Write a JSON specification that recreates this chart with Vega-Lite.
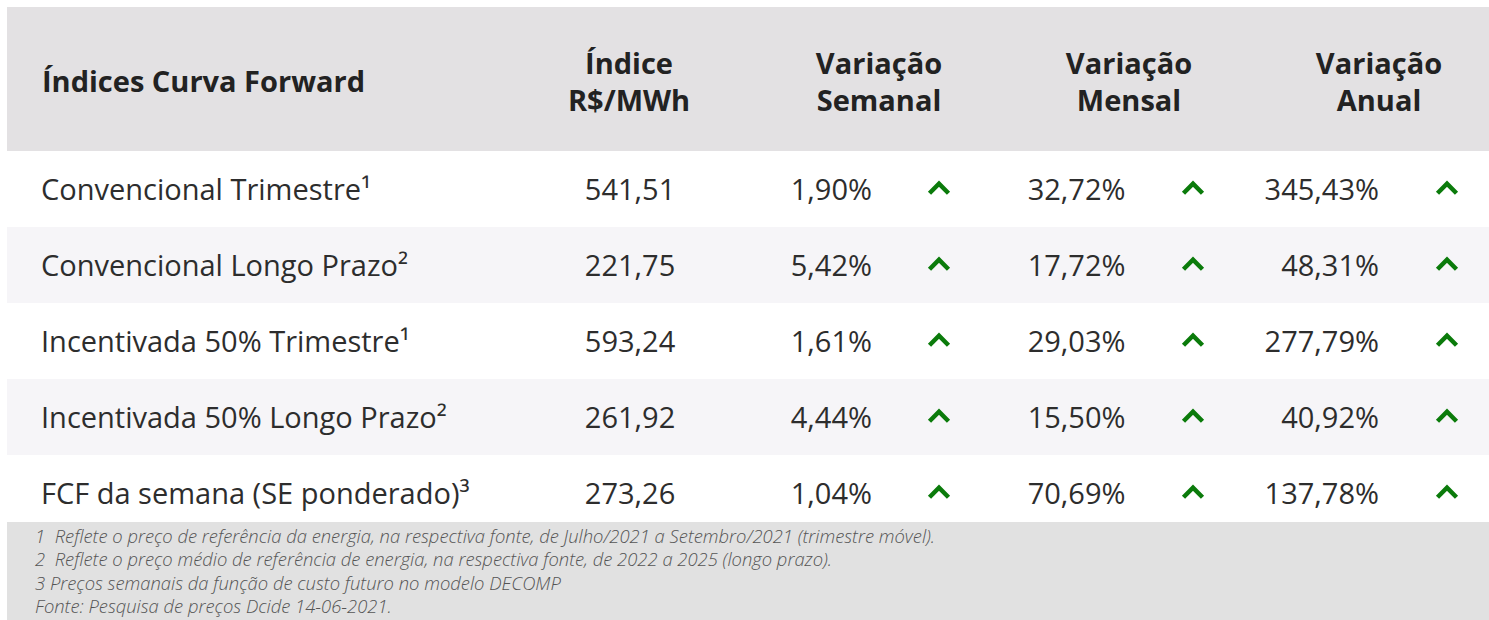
{
  "$schema": "https://vega.github.io/schema/vega-lite/v6.json",
  "width": 1482,
  "height": 613,
  "autosize": {"type": "none"},
  "padding": {"left": 7, "top": 7, "right": 0, "bottom": 0},
  "background": "#ffffff",
  "config": {
    "view": {"stroke": "#e6e6e6", "strokeWidth": 1},
    "font": "Open Sans",
    "locale": {"number": {"decimal": ",", "thousands": ".", "grouping": [3], "currency": ["R$ ", ""]}}
  },
  "datasets": {
    "tabela": [
      {"nome": "Convencional Trimestre¹", "indice": 541.51, "semanal": 0.0190, "mensal": 0.3272, "anual": 3.4543},
      {"nome": "Convencional Longo Prazo²", "indice": 221.75, "semanal": 0.0542, "mensal": 0.1772, "anual": 0.4831},
      {"nome": "Incentivada 50% Trimestre¹", "indice": 593.24, "semanal": 0.0161, "mensal": 0.2903, "anual": 2.7779},
      {"nome": "Incentivada 50% Longo Prazo²", "indice": 261.92, "semanal": 0.0444, "mensal": 0.1550, "anual": 0.4092},
      {"nome": "FCF da semana (SE ponderado)³", "indice": 273.26, "semanal": 0.0104, "mensal": 0.7069, "anual": 1.3778}
    ],
    "cabecalho": [
      {"coluna": "nome", "titulo": "Índices Curva Forward"},
      {"coluna": "indice", "titulo": "Índice\nR$/MWh"},
      {"coluna": "semanal", "titulo": "Variação\nSemanal"},
      {"coluna": "mensal", "titulo": "Variação\nMensal"},
      {"coluna": "anual", "titulo": "Variação\nAnual"}
    ],
    "notas": [
      {"nota": "1\u00a0 Reflete o preço de referência da energia, na respectiva fonte, de Julho/2021 a Setembro/2021 (trimestre móvel)."},
      {"nota": "2\u00a0 Reflete o preço médio de referência de energia, na respectiva fonte, de 2022 a 2025 (longo prazo)."},
      {"nota": "3 Preços semanais da função de custo futuro no modelo DECOMP"},
      {"nota": "Fonte: Pesquisa de preços Dcide 14-06-2021."}
    ]
  },
  "layer": [
    {
      "data": {"name": "cabecalho"},
      "transform": [{"filter": "datum.coluna === 'nome'"}],
      "mark": {"type": "rect", "color": "#e3e1e3"},
      "encoding": {
        "y": {"datum": "cabeçalho", "type": "nominal", "scale": {"type": "band", "domain": ["cabeçalho"], "range": [0, 144], "paddingInner": 0, "paddingOuter": 0}, "axis": null}
      }
    },
    {
      "data": {"name": "tabela"},
      "mark": {"type": "rect"},
      "encoding": {
        "y": {"field": "nome", "type": "nominal", "sort": null, "scale": {"type": "band", "range": [144, 524], "paddingInner": 0, "paddingOuter": 0}, "axis": null},
        "color": {"field": "nome", "type": "nominal", "sort": null, "scale": {"range": ["#ffffff", "#f6f5f8", "#ffffff", "#f6f5f8", "#ffffff"]}, "legend": null}
      }
    },
    {
      "data": {"name": "notas"},
      "transform": [{"aggregate": [{"op": "count", "as": "n"}]}],
      "mark": {"type": "rect", "color": "#e1e1e1"},
      "encoding": {
        "y": {"datum": "rodapé", "type": "nominal", "scale": {"type": "band", "domain": ["rodapé"], "range": [515, 613], "paddingInner": 0, "paddingOuter": 0}, "axis": null}
      }
    },
    {
      "data": {"name": "cabecalho"},
      "transform": [{"filter": "datum.coluna === 'nome'"}],
      "mark": {"type": "text", "align": "left", "baseline": "middle", "fontSize": 29, "fontWeight": "bold", "color": "#222222", "dy": 4},
      "encoding": {
        "x": {"datum": "nome", "type": "nominal", "scale": {"type": "band", "domain": ["nome"], "range": [35, 580], "paddingInner": 0, "paddingOuter": 0}, "bandPosition": 0, "axis": null},
        "y": {"datum": "cabeçalho", "type": "nominal", "scale": {"type": "band", "domain": ["cabeçalho"], "range": [0, 144], "paddingInner": 0, "paddingOuter": 0}, "axis": null},
        "text": {"field": "titulo"}
      }
    },
    {
      "data": {"name": "cabecalho"},
      "transform": [{"filter": "datum.coluna !== 'nome'"}],
      "mark": {"type": "text", "align": "center", "baseline": "middle", "fontSize": 29, "fontWeight": "bold", "color": "#222222", "lineBreak": "\n", "lineHeight": 37, "dy": -14},
      "encoding": {
        "x": {"field": "coluna", "type": "nominal", "sort": null, "scale": {"type": "band", "domain": ["indice", "semanal", "mensal", "anual"], "range": [497, 1497], "paddingInner": 0, "paddingOuter": 0}, "axis": null},
        "y": {"datum": "cabeçalho", "type": "nominal", "scale": {"type": "band", "domain": ["cabeçalho"], "range": [0, 144], "paddingInner": 0, "paddingOuter": 0}, "axis": null},
        "text": {"field": "titulo"}
      }
    },
    {
      "data": {"name": "tabela"},
      "mark": {"type": "text", "align": "left", "baseline": "alphabetic", "fontSize": 29, "color": "#2d2d2d"},
      "encoding": {
        "x": {"datum": "nome", "type": "nominal", "scale": {"type": "band", "domain": ["nome"], "range": [34, 580], "paddingInner": 0, "paddingOuter": 0}, "bandPosition": 0, "axis": null},
        "y": {"field": "nome", "type": "nominal", "sort": null, "scale": {"type": "point", "range": [193, 497], "padding": 0}, "axis": null},
        "text": {"field": "nome"}
      }
    },
    {
      "data": {"name": "tabela"},
      "mark": {"type": "text", "align": "center", "baseline": "alphabetic", "fontSize": 29, "color": "#2d2d2d"},
      "encoding": {
        "x": {"datum": "indice", "type": "nominal", "scale": {"type": "band", "domain": ["indice"], "range": [496, 750], "paddingInner": 0, "paddingOuter": 0}, "axis": null},
        "y": {"field": "nome", "type": "nominal", "sort": null, "scale": {"type": "point", "range": [193, 497], "padding": 0}, "axis": null},
        "text": {"field": "indice", "type": "quantitative", "format": ".2f"}
      }
    },
    {
      "data": {"name": "tabela"},
      "transform": [{"fold": ["semanal", "mensal", "anual"], "as": ["coluna", "valor"]}],
      "mark": {"type": "text", "align": "right", "baseline": "alphabetic", "fontSize": 29, "color": "#2d2d2d"},
      "encoding": {
        "x": {"field": "coluna", "type": "nominal", "sort": null, "scale": {"type": "band", "domain": ["semanal", "mensal", "anual"], "range": [611.5, 1372], "paddingInner": 0, "paddingOuter": 0}, "bandPosition": 1, "axis": null},
        "y": {"field": "nome", "type": "nominal", "sort": null, "scale": {"type": "point", "range": [193, 497], "padding": 0}, "axis": null},
        "text": {"field": "valor", "type": "quantitative", "format": ".2%"}
      }
    },
    {
      "data": {"name": "tabela"},
      "transform": [{"fold": ["semanal", "mensal", "anual"], "as": ["coluna", "valor"]}],
      "mark": {"type": "point", "filled": false, "size": 361, "strokeWidth": 4.5, "color": "#0b7b0b", "opacity": 1, "strokeJoin": "miter", "strokeCap": "butt"},
      "encoding": {
        "x": {"field": "coluna", "type": "nominal", "sort": null, "scale": {"type": "band", "domain": ["semanal", "mensal", "anual"], "range": [805, 1567], "paddingInner": 0, "paddingOuter": 0}, "axis": null},
        "y": {"field": "nome", "type": "nominal", "sort": null, "scale": {"type": "point", "range": [181.5, 485.5], "padding": 0}, "axis": null},
        "shape": {"condition": {"test": "datum.valor >= 0", "value": "M-1,0.5L0,-0.5L1,0.5"}, "value": "M-1,-0.5L0,0.5L1,-0.5"}
      }
    },
    {
      "data": {"name": "notas"},
      "mark": {"type": "text", "align": "left", "baseline": "middle", "fontSize": 18.4, "fontStyle": "italic", "fontWeight": 300, "color": "#555555"},
      "encoding": {
        "x": {"datum": "nota", "type": "nominal", "scale": {"type": "band", "domain": ["nota"], "range": [28, 1482], "paddingInner": 0, "paddingOuter": 0}, "bandPosition": 0, "axis": null},
        "y": {"field": "nota", "type": "nominal", "sort": null, "scale": {"type": "point", "range": [530, 600], "padding": 0}, "axis": null},
        "text": {"field": "nota"}
      }
    }
  ],
  "resolve": {"scale": {"x": "independent", "y": "independent", "color": "independent", "shape": "independent"}}
}
